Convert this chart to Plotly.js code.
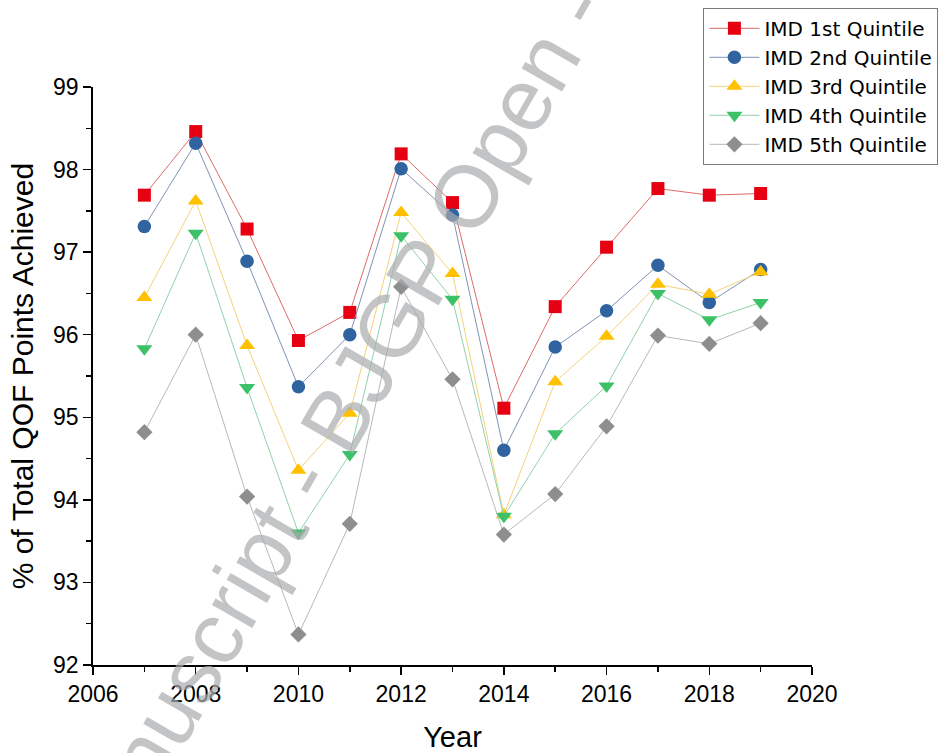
<!DOCTYPE html>
<html>
<head>
<meta charset="utf-8">
<script src="https://cdn.plot.ly/plotly-3.0.1.min.js"></script>
<style>html,body{margin:0;padding:0;background:#fff;}#chart{width:940px;height:753px;}</style>
</head>
<body>
<div id="chart"></div>
<script>
const years = [2007, 2008, 2009, 2010, 2011, 2012, 2013, 2014, 2015, 2016, 2017, 2018, 2019];
const q1 = [97.69, 98.46, 97.28, 95.93, 96.27, 98.19, 97.60, 95.11, 96.34, 97.06, 97.77, 97.69, 97.71];
const q2 = [97.31, 98.32, 96.89, 95.37, 96.00, 98.01, 97.45, 94.60, 95.85, 96.29, 96.84, 96.39, 96.79];
const q3 = [96.45, 97.62, 95.87, 94.36, 95.05, 97.48, 96.74, 93.82, 95.43, 95.98, 96.61, 96.49, 96.76];
const q4 = [95.83, 97.23, 95.36, 93.60, 94.55, 97.20, 96.43, 93.80, 94.80, 95.38, 96.50, 96.18, 96.39];
const q5 = [94.82, 96.00, 94.04, 92.37, 93.71, 96.58, 95.46, 93.58, 94.07, 94.89, 95.99, 95.89, 96.14];
const seriesNames = ["IMD 1st Quintile", "IMD 2nd Quintile", "IMD 3rd Quintile", "IMD 4th Quintile", "IMD 5th Quintile"];
const xTitle = "Year";
const yTitle = "% of Total QOF Points Achieved";
const watermark = "Accepted Manuscript - BJGP Open - ";

const values = [q1, q2, q3, q4, q5];
const markerColors = ["#e60012", "#2f64a0", "#ffc000", "#3cc068", "#8e8e8e"];
const lineColors = ["#e06a6a", "#7f94b4", "#f3d27a", "#8fd3a7", "#b8b8b8"];
const symbols = ["square", "circle", "triangle-up", "triangle-down", "diamond"];
const sizes = [13, 13.5, 14, 14, 12.5];

const FONT = "Liberation Sans, Arial, sans-serif";

const traces = values.map((v, i) => ({
  x: years,
  y: v,
  name: seriesNames[i],
  type: "scatter",
  mode: "lines+markers",
  line: {color: lineColors[i], width: 1},
  marker: {symbol: symbols[i], size: sizes[i], color: markerColors[i], line: {width: 0}}
}));

const axisCommon = {
  showline: true, linecolor: "#000", linewidth: 1.8,
  ticks: "outside", ticklen: 8, tickwidth: 1.5, tickcolor: "#000",
  showgrid: false, zeroline: false,
  tickfont: {family: FONT, size: 23, color: "#000"}
};

const layout = {
  width: 940, height: 753,
  paper_bgcolor: "#fff", plot_bgcolor: "#fff",
  margin: {l: 93, r: 128, t: 87, b: 88, autoexpand: false},
  showlegend: true,
  font: {family: FONT, color: "#000"},
  xaxis: Object.assign({}, axisCommon, {
    range: [2006, 2020], dtick: 2, tick0: 2006,
    minor: {dtick: 1, ticks: "outside", ticklen: 5, tickwidth: 1.5, tickcolor: "#000", showgrid: false},
    title: {text: xTitle, font: {family: FONT, size: 29, color: "#000"}, standoff: 22}
  }),
  yaxis: Object.assign({}, axisCommon, {
    range: [92, 99], dtick: 1, tick0: 92,
    minor: {dtick: 0.5, ticks: "outside", ticklen: 5, tickwidth: 1.5, tickcolor: "#000", showgrid: false},
    title: {text: yTitle, font: {family: FONT, size: 30, color: "#000"}, standoff: 10}
  }),
  legend: {
    x: 0.849, y: 1.137, xanchor: "left", yanchor: "top",
    bgcolor: "#fff", bordercolor: "#7a7a7a", borderwidth: 1,
    font: {family: "DejaVu Sans, sans-serif", size: 20, color: "#000"},
    itemwidth: 50, tracegroupgap: 0
  },
  annotations: [{
    text: watermark, xref: "paper", yref: "paper", x: 0.1975, y: 0.116,
    xanchor: "center", yanchor: "middle", showarrow: false, textangle: -60,
    font: {family: FONT, size: 88, color: "rgba(170,171,174,0.7)"}
  }]
};

Plotly.newPlot("chart", traces, layout, {displayModeBar: false, staticPlot: true});
</script>
</body>
</html>
